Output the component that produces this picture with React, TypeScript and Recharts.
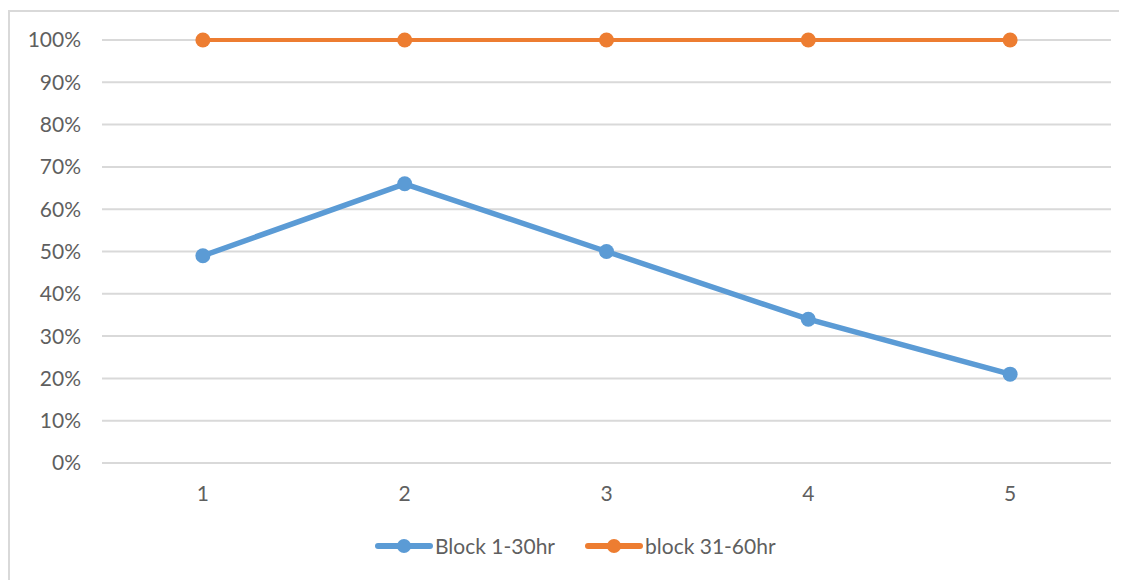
import React from "react";
import { LineChart, Line, XAxis, YAxis, CartesianGrid } from "recharts";

const categories = [1, 2, 3, 4, 5];
const block1to30 = [0.49, 0.66, 0.5, 0.34, 0.21];
const block31to60 = [1, 1, 1, 1, 1];
const yTicks = [0, 0.1, 0.2, 0.3, 0.4, 0.5, 0.6, 0.7, 0.8, 0.9, 1];

const seriesNames = ["Block 1-30hr", "block 31-60hr"];
const seriesColors = ["#5B9BD5", "#ED7D31"];

const data = categories.map((c, i) => ({
  x: c,
  a: block1to30[i],
  b: block31to60[i],
}));

const FONT = "Lato, 'Open Sans', sans-serif";
const TEXT = "#5f5f5f";

export default function App() {
  return (
    <div style={{ position: "relative", width: 1119, height: 572, fontFamily: FONT }}>
      <div
        style={{
          position: "absolute",
          left: 0,
          top: 2,
          width: 1119,
          height: 570,
          borderLeft: "2px solid #d9d9d9",
          borderTop: "2px solid #d9d9d9",
          boxSizing: "border-box",
        }}
      />
      <div style={{ position: "absolute", left: 0, top: 0 }}>
        <LineChart
          width={1119}
          height={570}
          data={data}
          margin={{ top: 32, right: 16, bottom: 75, left: 0 }}
        >
          <CartesianGrid vertical={false} stroke="#d9d9d9" strokeWidth={2} />
          <XAxis
            dataKey="x"
            type="number"
            domain={[0.5, 5.5]}
            ticks={categories}
            axisLine={false}
            tickLine={false}
            tickSize={0}
            tickMargin={23}
            height={40}
            tick={{ fill: TEXT, fontSize: 21, fontFamily: FONT }}
          />
          <YAxis
            domain={[0, 1]}
            ticks={yTicks}
            tickFormatter={(v: number) => `${Math.round(v * 100)}%`}
            axisLine={false}
            tickLine={false}
            tickSize={0}
            tickMargin={21}
            width={94}
            tick={{ fill: TEXT, fontSize: 21, fontFamily: FONT }}
          />
          <Line
            dataKey="a"
            name={seriesNames[0]}
            stroke={seriesColors[0]}
            strokeWidth={5.5}
            dot={{ r: 7.5, fill: seriesColors[0], stroke: "none" }}
            isAnimationActive={false}
          />
          <Line
            dataKey="b"
            name={seriesNames[1]}
            stroke={seriesColors[1]}
            strokeWidth={4}
            dot={{ r: 7.5, fill: seriesColors[1], stroke: "none" }}
            isAnimationActive={false}
          />
        </LineChart>
      </div>
      <div
        style={{
          position: "absolute",
          top: 525,
          left: 367,
          display: "flex",
          alignItems: "center",
          fontSize: 21,
          color: TEXT,
          whiteSpace: "nowrap",
        }}
      >
        {seriesNames.map((n, i) => (
          <div key={n} style={{ display: "flex", alignItems: "center", marginRight: 30 }}>
            <svg width={58} height={20} style={{ marginRight: 2 }}>
              <line x1={3} y1={10} x2={55} y2={10} stroke={seriesColors[i]} strokeWidth={6} strokeLinecap="round" />
              <circle cx={29} cy={10} r={7} fill={seriesColors[i]} />
            </svg>
            <span>{n}</span>
          </div>
        ))}
      </div>
    </div>
  );
}
